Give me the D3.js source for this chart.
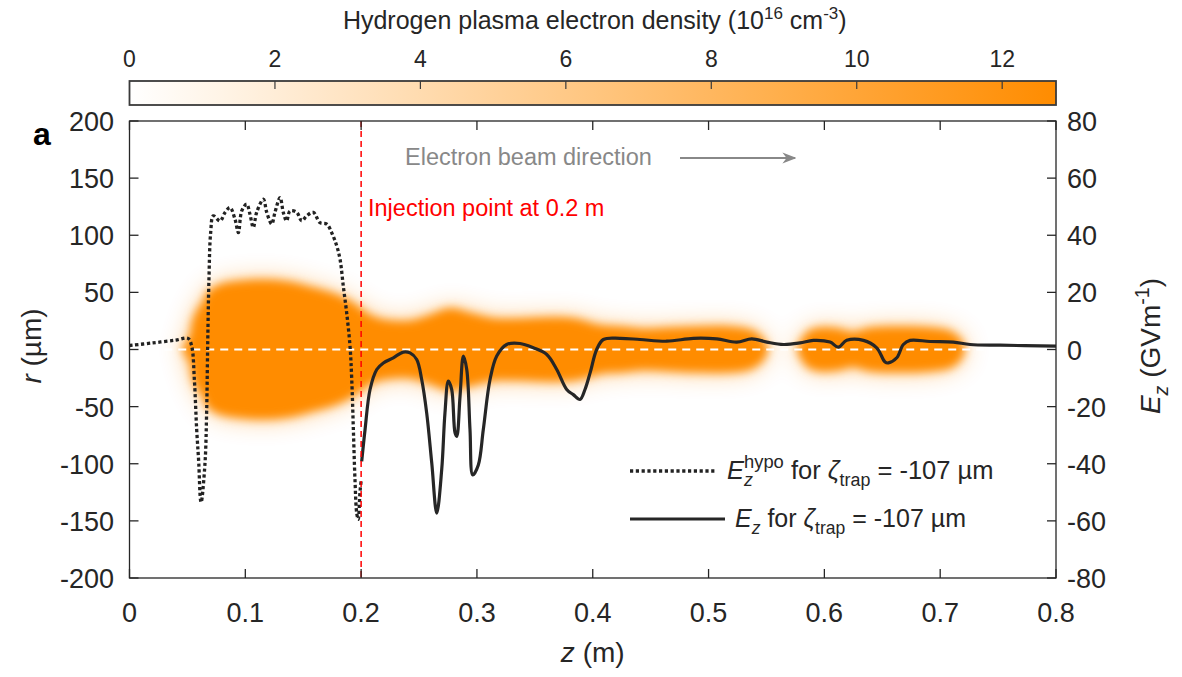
<!DOCTYPE html>
<html>
<head>
<meta charset="utf-8">
<script src="https://cdn.jsdelivr.net/npm/d3@7"></script>
<style>
  html, body { margin: 0; padding: 0; background: #fff; }
  svg { display: block; font-family: "Liberation Sans", Arial, sans-serif; }
</style>
</head>
<body>
<svg id="chart" width="1182" height="677"></svg>
<script>
// ---------------- DATA ----------------
const xTicks = [0, 0.1, 0.2, 0.3, 0.4, 0.5, 0.6, 0.7, 0.8];
const rTicks = [200, 150, 100, 50, 0, -50, -100, -150, -200];
const ezTicks = [80, 60, 40, 20, 0, -20, -40, -60, -80];
const cbTicks = [0, 2, 4, 6, 8, 10, 12];
const cbMax = 12.74;

// Plasma channel: z (m) and half-width (µm); null separates the two sections
const plasmaZ = [0.046, 0.052, 0.054, 0.058, 0.0635, 0.067, 0.078, 0.095, 0.119, 0.139, 0.153, 0.179, 0.193, 0.208, 0.22, 0.242, 0.259, 0.277, 0.294, 0.316, 0.337, 0.363, 0.385, 0.407, 0.424, 0.445, 0.467, 0.492, 0.518, 0.537, 0.546, 0.551,
                 0.565,
                 0.577, 0.581, 0.586, 0.596, 0.613, 0.624, 0.64, 0.666, 0.691, 0.709, 0.717, 0.721];
const plasmaR = [2, 12, 24, 34, 42, 50, 57, 60, 61, 59, 55.5, 48, 41, 30, 26, 25, 30, 36, 32, 27, 27, 28, 27, 21, 20, 18, 19, 20, 20, 17, 11, 3,
                 null,
                 3, 10, 16, 19, 18, 15, 19, 20, 19, 16, 10, 3];
const plasmaDensity = 12.7;

// Hypothetical Ez (dotted) in GV/m
const hypoZ = [0, 0.02, 0.04, 0.0505, 0.0537, 0.056, 0.058, 0.0598, 0.0613, 0.0619, 0.0652, 0.0666, 0.0675, 0.0686, 0.0701, 0.0724, 0.0782, 0.0825, 0.0868, 0.0911, 0.094, 0.0969, 0.1012, 0.104, 0.1069, 0.1098, 0.1156, 0.1185, 0.1228, 0.1256, 0.130, 0.1328, 0.1357, 0.1386, 0.1444, 0.1487, 0.153, 0.1587, 0.1645, 0.1703, 0.1746, 0.1789, 0.1818, 0.1846, 0.1875, 0.1904, 0.1919, 0.1933, 0.1947, 0.1962, 0.1975, 0.199, 0.2];
const hypoE = [1.4, 2.3, 3.3, 3.9, 1.2, -10.5, -28, -39.7, -52.6, -53.5, -39.7, -22, 1.2, 24.6, 41, 46.8, 45.0, 48.0, 49.7, 45.6, 40.9, 48.5, 50.9, 47.4, 42.7, 48.0, 52.6, 48.0, 43.9, 48.0, 53.2, 48.0, 45.0, 48.5, 48.0, 45.0, 46.8, 48.0, 44.4, 43.9, 40.9, 36.3, 31.6, 22.2, 12.9, 1.2, -10.5, -28, -45.6, -57.3, -59.5, -50, -46];

// Simulated Ez (solid) in GV/m
const ezZ = [0.2005, 0.2034, 0.2077, 0.2135, 0.2192, 0.2278, 0.2364, 0.2422, 0.248, 0.2523, 0.2566, 0.261, 0.2653, 0.2696, 0.2724, 0.2753, 0.2782, 0.2811, 0.2826, 0.2854, 0.2883, 0.2912, 0.294, 0.2964, 0.3012, 0.3055, 0.3113, 0.3171, 0.3257, 0.3372, 0.3487, 0.3603, 0.3689, 0.3775, 0.3832, 0.389, 0.3933, 0.3977, 0.4034, 0.4092, 0.4236, 0.4408, 0.4639, 0.4869, 0.5071, 0.5243, 0.5373, 0.5503, 0.5646, 0.579, 0.5905, 0.6049, 0.6121, 0.6193, 0.6337, 0.6452, 0.6524, 0.6553, 0.6625, 0.6682, 0.674, 0.6913, 0.7114, 0.7258, 0.7517, 0.8];
const ezE = [-39.2, -28, -14, -7, -4.7, -2.9, -0.9, -1.2, -3.5, -10.5, -22.2, -39.8, -57.3, -42, -22.2, -11.1, -14, -29.2, -30.4, -16.4, -2.3, -7, -28, -43.9, -40.4, -28, -10.5, -2.3, 1.75, 2.1, 0.6, -1.75, -7, -14, -15.8, -17.5, -14, -8.2, 0, 3.5, 3.9, 3.5, 2.9, 3.9, 3.7, 2.6, 3.7, 2.6, 1.75, 2.3, 3.2, 2.6, 0.8, 3.2, 3.2, 0.6, -4.4, -4.7, -2.9, 1.75, 3.2, 2.8, 2.6, 1.75, 1.5, 1.2];

const injectionZ = 0.2;

// ---------------- LAYOUT ----------------
const svg = d3.select("#chart");
const L = 129.5, R = 1056, T = 121, B = 578;
const x = d3.scaleLinear().domain([0, 0.8]).range([L, R]);
const yR = d3.scaleLinear().domain([-200, 200]).range([B, T]);
const yE = d3.scaleLinear().domain([-80, 80]).range([B, T]);
const orange = "#ff8c00";
const cScale = d3.scaleLinear().domain([0, cbMax]).range(["#ffffff", orange]).interpolate(d3.interpolateRgb);
const axisColor = "#262626";
const textColor = "#262626";

const defs = svg.append("defs");
const f1 = defs.append("filter").attr("id", "blurA").attr("x", "-20%").attr("y", "-60%").attr("width", "140%").attr("height", "220%");
f1.append("feGaussianBlur").attr("stdDeviation", 5);
const f2 = defs.append("filter").attr("id", "blurB").attr("x", "-20%").attr("y", "-60%").attr("width", "140%").attr("height", "220%");
f2.append("feGaussianBlur").attr("stdDeviation", 13);
defs.append("clipPath").attr("id", "plotClip").append("rect").attr("x", L).attr("y", T).attr("width", R - L).attr("height", B - T);

// rich text helper
function rich(parent, x0, y0, pieces, size, anchor) {
  const g = parent.append("g");
  let cx = 0;
  pieces.forEach(p => {
    const fs = size * (p.scale || 1);
    const t = g.append("text")
      .attr("x", cx).attr("y", p.dy || 0)
      .attr("font-size", fs)
      .attr("fill", p.fill || textColor)
      .style("font-style", p.italic ? "italic" : "normal")
      .style("font-weight", p.bold ? "bold" : "normal")
      .attr("xml:space", "preserve")
      .text(p.t);
    const w = t.node().getComputedTextLength();
    if (!p.noAdvance) cx += w;
  });
  let shift = 0;
  if (anchor === "middle") shift = -cx / 2;
  else if (anchor === "end") shift = -cx;
  g.attr("transform", `translate(${x0 + shift},${y0})`);
  return { g, width: cx };
}

// ---------------- COLORBAR ----------------
const cbX = d3.scaleLinear().domain([0, cbMax]).range([L, R]);
const cbT = 81, cbB = 105;
const grad = defs.append("linearGradient").attr("id", "cbGrad").attr("x1", "0%").attr("x2", "100%");
d3.range(0, 11).forEach(i => {
  grad.append("stop").attr("offset", (i * 10) + "%").attr("stop-color", cScale(cbMax * i / 10));
});
svg.append("rect").attr("x", L).attr("y", cbT).attr("width", R - L).attr("height", cbB - cbT)
  .attr("fill", "url(#cbGrad)").attr("stroke", "#3a3a3a").attr("stroke-width", 1.8);
svg.append("g").selectAll("line").data(cbTicks.filter(d => d > 0)).join("line")
  .attr("x1", d => cbX(d)).attr("x2", d => cbX(d)).attr("y1", cbT).attr("y2", cbT + 8)
  .attr("stroke", "#3a3a3a").attr("stroke-width", 1.2);
svg.append("g").selectAll("text").data(cbTicks).join("text")
  .attr("x", d => cbX(d)).attr("y", 67).attr("text-anchor", "middle")
  .attr("font-size", 23).attr("fill", textColor).text(d => d);
rich(svg, (L + R) / 2 + 2, 29, [
  { t: "Hydrogen plasma electron density (10" },
  { t: "16", scale: 0.68, dy: -10 },
  { t: " cm" },
  { t: "-3", scale: 0.68, dy: -10 },
  { t: ")" }
], 25, "middle");

// ---------------- PLASMA ----------------
const plasmaData = plasmaZ.map((z, i) => ({ z, r: plasmaR[i] }));
const area = d3.area()
  .defined(d => d.r !== null)
  .x(d => x(d.z)).y0(d => yR(-d.r)).y1(d => yR(d.r))
  .curve(d3.curveCatmullRom.alpha(0.5));
const pg = svg.append("g").attr("clip-path", "url(#plotClip)");
pg.append("path").attr("d", area(plasmaData)).attr("fill", cScale(plasmaDensity))
  .attr("opacity", 0.45).attr("filter", "url(#blurB)");
pg.append("path").attr("d", area(plasmaData)).attr("fill", cScale(plasmaDensity))
  .attr("filter", "url(#blurA)");

// white dashed axis line r = 0
svg.append("line").attr("x1", x(0.03)).attr("x2", R).attr("y1", yR(0)).attr("y2", yR(0))
  .attr("stroke", "#fff").attr("stroke-width", 2).attr("stroke-dasharray", "8,6");

// ---------------- LINES ----------------
const lineE = d3.line().x(d => x(d[0])).y(d => yE(d[1])).curve(d3.curveCatmullRom.alpha(0.5));
svg.append("path").attr("d", lineE(hypoZ.map((z, i) => [z, hypoE[i]])))
  .attr("fill", "none").attr("stroke", "#222").attr("stroke-width", 3.3)
  .attr("stroke-dasharray", "3.2,2.6");
svg.append("path").attr("d", lineE(ezZ.map((z, i) => [z, ezE[i]])))
  .attr("fill", "none").attr("stroke", "#262626").attr("stroke-width", 3.2)
  .attr("stroke-linejoin", "round");

// injection line
svg.append("line").attr("x1", x(injectionZ)).attr("x2", x(injectionZ)).attr("y1", T).attr("y2", B)
  .attr("stroke", "#ff0000").attr("stroke-width", 1.5).attr("stroke-dasharray", "6,4");

// ---------------- AXES FRAME ----------------
const tickLen = 9;
const ax = svg.append("g").attr("stroke", axisColor).attr("stroke-width", 1.3);
ax.append("rect").attr("x", L).attr("y", T).attr("width", R - L).attr("height", B - T).attr("fill", "none");
xTicks.forEach(t => {
  ax.append("line").attr("x1", x(t)).attr("x2", x(t)).attr("y1", B).attr("y2", B - tickLen);
  ax.append("line").attr("x1", x(t)).attr("x2", x(t)).attr("y1", T).attr("y2", T + tickLen);
});
rTicks.forEach(t => {
  ax.append("line").attr("x1", L).attr("x2", L + tickLen).attr("y1", yR(t)).attr("y2", yR(t));
});
ezTicks.forEach(t => {
  ax.append("line").attr("x1", R).attr("x2", R - tickLen).attr("y1", yE(t)).attr("y2", yE(t));
});

svg.append("g").selectAll("text").data(xTicks).join("text")
  .attr("x", d => x(d)).attr("y", 622).attr("text-anchor", "middle")
  .attr("font-size", 27).attr("fill", textColor).text(d => d);
svg.append("g").selectAll("text").data(rTicks).join("text")
  .attr("x", 114).attr("y", d => yR(d) + 10).attr("text-anchor", "end")
  .attr("font-size", 27).attr("fill", textColor).text(d => d);
svg.append("g").selectAll("text").data(ezTicks).join("text")
  .attr("x", 1067).attr("y", d => yE(d) + 10).attr("text-anchor", "start")
  .attr("font-size", 27).attr("fill", textColor).text(d => d);

// axis titles
rich(svg, (L + R) / 2, 662, [{ t: "z", italic: true }, { t: " (m)" }], 28, "middle");
const lg = svg.append("g").attr("transform", "translate(41,346) rotate(-90)");
rich(lg, 0, 0, [{ t: "r", italic: true }, { t: " (µm)" }], 28, "middle");
const rg = svg.append("g").attr("transform", "translate(1160,346) rotate(-90)");
rich(rg, 0, 0, [
  { t: "E", italic: true },
  { t: "z", italic: true, scale: 0.7, dy: 8 },
  { t: " (GVm" },
  { t: "-1", scale: 0.7, dy: -11 },
  { t: ")" }
], 28, "middle");

// panel label
svg.append("text").attr("x", 33).attr("y", 145).attr("font-size", 32).attr("font-weight", "bold")
  .attr("fill", "#000").text("a");

// annotations
svg.append("text").attr("x", 405).attr("y", 165).attr("font-size", 23.5).attr("fill", "#888")
  .text("Electron beam direction");
defs.append("marker").attr("id", "arr").attr("viewBox", "0 0 10 10").attr("refX", 9).attr("refY", 5)
  .attr("markerWidth", 7).attr("markerHeight", 7).attr("orient", "auto")
  .append("path").attr("d", "M0,1 L10,5 L0,9 L3,5 Z").attr("fill", "#888");
svg.append("line").attr("x1", 680).attr("x2", 795).attr("y1", 158).attr("y2", 158)
  .attr("stroke", "#888").attr("stroke-width", 2).attr("marker-end", "url(#arr)");
svg.append("text").attr("x", 368).attr("y", 216).attr("font-size", 23.5).attr("fill", "#ff0000")
  .text("Injection point at 0.2 m");

// ---------------- LEGEND ----------------
svg.append("line").attr("x1", 630).attr("x2", 716).attr("y1", 471).attr("y2", 471)
  .attr("stroke", "#222").attr("stroke-width", 3.3).attr("stroke-dasharray", "3.2,2.6");
svg.append("line").attr("x1", 630).attr("x2", 725).attr("y1", 519).attr("y2", 519)
  .attr("stroke", "#262626").attr("stroke-width", 3.2);
rich(svg, 727, 479, [
  { t: "E", italic: true },
  { t: "z", italic: true, scale: 0.7, dy: 7, noAdvance: true },
  { t: "hypo", scale: 0.72, dy: -11 },
  { t: " for " },
  { t: "ζ", italic: true },
  { t: "trap", scale: 0.7, dy: 7 },
  { t: " = -107 µm" }
], 25.5, "start");
rich(svg, 735, 527, [
  { t: "E", italic: true },
  { t: "z", italic: true, scale: 0.7, dy: 7 },
  { t: " for " },
  { t: "ζ", italic: true },
  { t: "trap", scale: 0.7, dy: 7 },
  { t: " = -107 µm" }
], 25, "start");
</script>
</body>
</html>
